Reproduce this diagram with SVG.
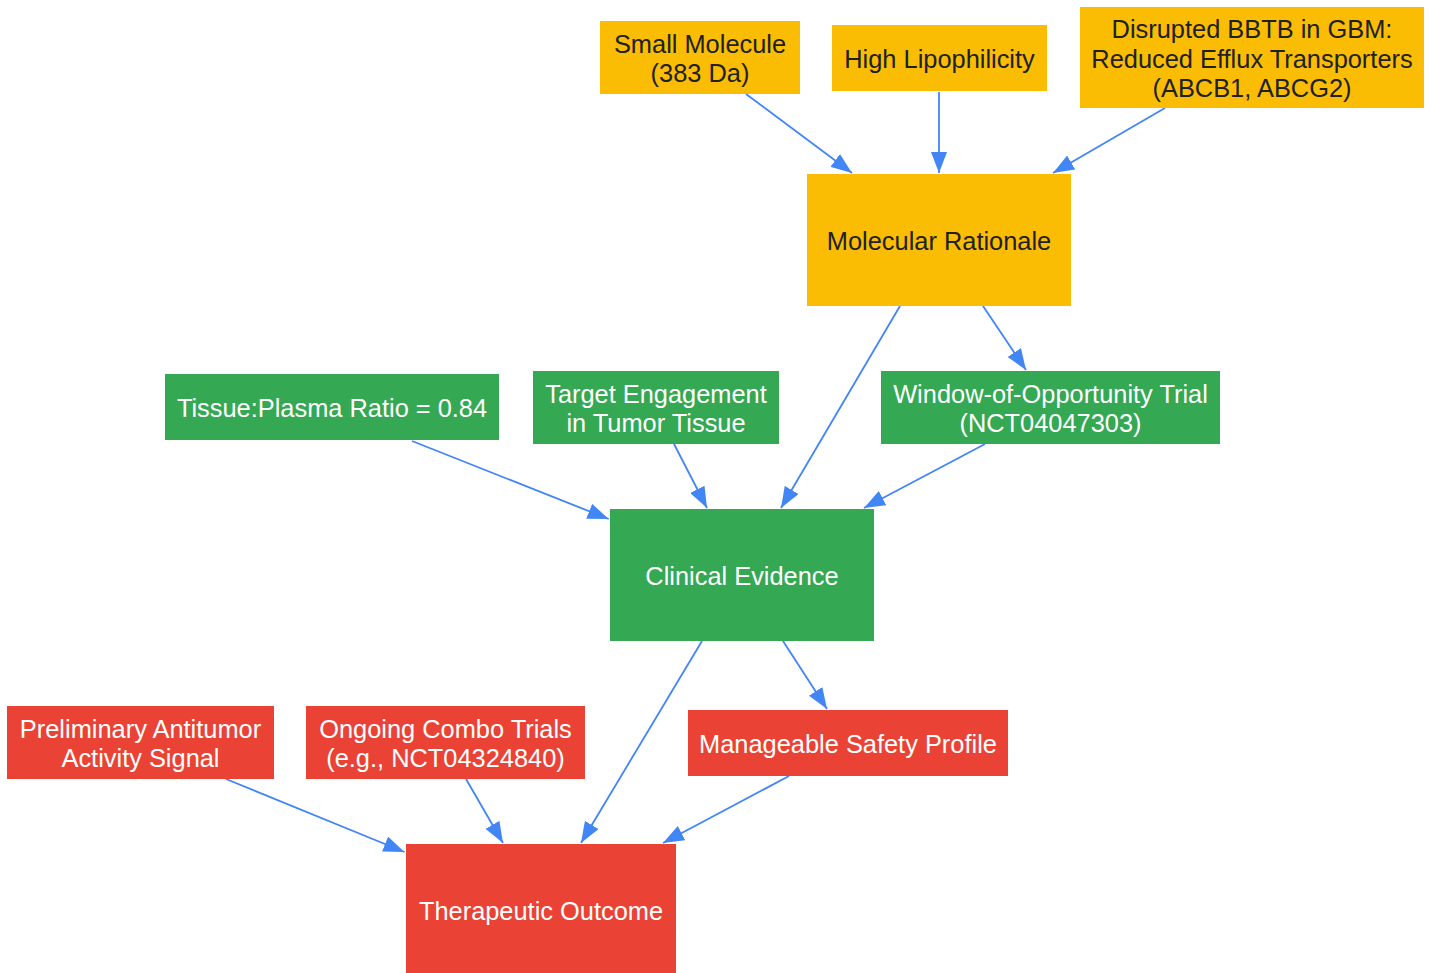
<svg xmlns="http://www.w3.org/2000/svg" width="1431" height="973" viewBox="0 0 1431 973">
<defs>
<marker id="ah" markerUnits="userSpaceOnUse" markerWidth="21" markerHeight="16" refX="21" refY="8" orient="auto">
<path d="M0,0 L21,8 L0,16 z" fill="#4285F4"/>
</marker>
<style>
.y rect{fill:#FBBC04}
.g rect{fill:#34A853}
.r rect{fill:#EA4335}
text{font-family:"Liberation Sans",Arial,sans-serif;font-size:25.4px;text-anchor:middle}
.y text{fill:#202124}
.g text,.r text{fill:#FFFFFF}
#edges line{stroke:#4285F4;stroke-width:1.8;fill:none;marker-end:url(#ah)}
</style>
</defs>
<rect width="1431" height="973" fill="#FFFFFF"/>
<g id="edges">
<line x1="746" y1="94" x2="852" y2="173"/>
<line x1="939" y1="92" x2="939" y2="173"/>
<line x1="1165" y1="108" x2="1053" y2="173"/>
<line x1="900" y1="306" x2="781" y2="508"/>
<line x1="983" y1="306" x2="1026" y2="370"/>
<line x1="412" y1="441" x2="608.7" y2="519"/>
<line x1="674" y1="444" x2="707" y2="508"/>
<line x1="985" y1="444" x2="864" y2="508"/>
<line x1="702" y1="641" x2="581" y2="843"/>
<line x1="783" y1="641" x2="827" y2="709"/>
<line x1="226" y1="779" x2="404.5" y2="852"/>
<line x1="466" y1="779" x2="503" y2="843"/>
<line x1="789" y1="776" x2="663" y2="843"/>
</g>
<g id="small_molecule" class="y">
<rect x="600" y="21" width="200" height="73"/>
<text x="700" y="52.9">Small Molecule</text>
<text x="700" y="82.1">(383 Da)</text>
</g>
<g id="high_lipophilicity" class="y">
<rect x="832" y="25" width="215" height="66"/>
<text x="939.5" y="68">High Lipophilicity</text>
</g>
<g id="disrupted_bbtb" class="y">
<rect x="1080" y="7" width="344" height="101"/>
<text x="1252" y="38.3">Disrupted BBTB in GBM:</text>
<text x="1252" y="67.5">Reduced Efflux Transporters</text>
<text x="1252" y="96.7">(ABCB1, ABCG2)</text>
</g>
<g id="molecular_rationale" class="y">
<rect x="807" y="174" width="264" height="132"/>
<text x="939" y="250">Molecular Rationale</text>
</g>
<g id="tissue_plasma" class="g">
<rect x="165" y="374" width="334" height="66"/>
<text x="332" y="417">Tissue:Plasma Ratio = 0.84</text>
</g>
<g id="target_engagement" class="g">
<rect x="533" y="371" width="246" height="73"/>
<text x="656" y="402.9">Target Engagement</text>
<text x="656" y="432.1">in Tumor Tissue</text>
</g>
<g id="window_trial" class="g">
<rect x="881" y="371" width="339" height="73"/>
<text x="1050.5" y="402.9">Window-of-Opportunity Trial</text>
<text x="1050.5" y="432.1">(NCT04047303)</text>
</g>
<g id="clinical_evidence" class="g">
<rect x="610" y="509" width="264" height="132"/>
<text x="742" y="585">Clinical Evidence</text>
</g>
<g id="preliminary_activity" class="r">
<rect x="7" y="706" width="267" height="73"/>
<text x="140.5" y="737.9">Preliminary Antitumor</text>
<text x="140.5" y="767.1">Activity Signal</text>
</g>
<g id="ongoing_combo" class="r">
<rect x="306" y="706" width="279" height="73"/>
<text x="445.5" y="737.9">Ongoing Combo Trials</text>
<text x="445.5" y="767.1">(e.g., NCT04324840)</text>
</g>
<g id="safety_profile" class="r">
<rect x="688" y="710" width="320" height="66"/>
<text x="848" y="753">Manageable Safety Profile</text>
</g>
<g id="therapeutic_outcome" class="r">
<rect x="406" y="844" width="270" height="132"/>
<text x="541" y="920">Therapeutic Outcome</text>
</g>
</svg>
